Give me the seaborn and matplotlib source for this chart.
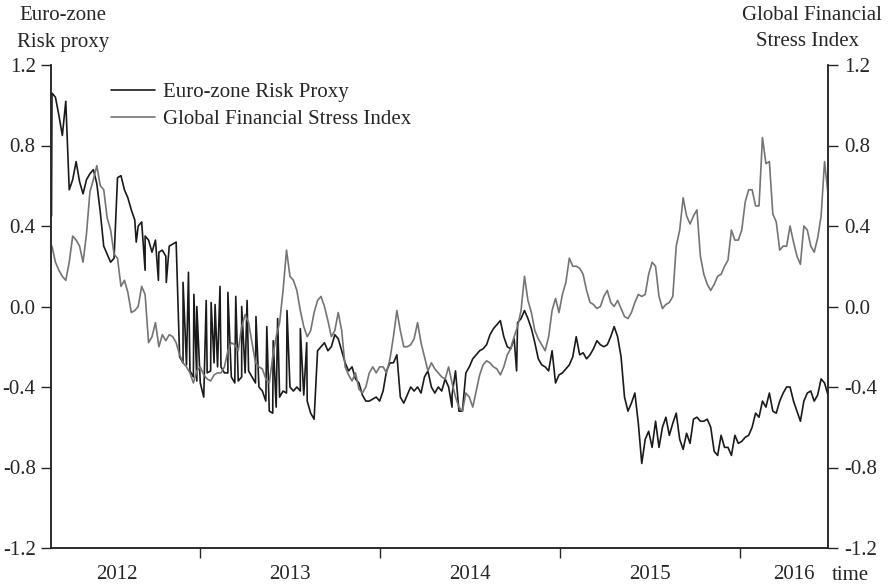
import matplotlib
matplotlib.use("Agg")
import matplotlib.pyplot as plt
import matplotlib.dates as mdates
import pandas as pd
import seaborn as sns


# weekly readings, first week starting 2012-03-06
START = "2012-03-06"

euro_weekly = [
    1.06, 1.04, 0.95, 0.85, 1.02, 0.58, 0.63, 0.72, 0.62, 0.56,
    0.63, 0.66, 0.68, 0.61, 0.47, 0.30, 0.26, 0.22, 0.24, 0.64,
    0.65, 0.58, 0.54, 0.48, 0.43, 0.40, 0.42, 0.35, 0.33, 0.27,
    0.33, 0.27, 0.28, 0.25, 0.30, 0.31, 0.32, -0.25, -0.28, -0.29,
    -0.32, -0.35, -0.37, -0.38, -0.45, -0.33, -0.32, -0.28, -0.30, -0.30,
    -0.33, -0.33, -0.35, -0.38, -0.37, -0.35, -0.33, -0.32, -0.35, -0.38,
    -0.40, -0.42, -0.47, -0.52, -0.53, -0.50, -0.45, -0.42, -0.43, -0.40,
    -0.42, -0.40, -0.42, -0.44, -0.47, -0.53, -0.56, -0.22, -0.20, -0.18,
    -0.22, -0.20, -0.14, -0.16, -0.22, -0.28, -0.32, -0.30, -0.36, -0.38,
    -0.44, -0.47, -0.47, -0.46, -0.45, -0.47, -0.42, -0.32, -0.28, -0.28,
    -0.24, -0.45, -0.48, -0.44, -0.40, -0.42, -0.40, -0.43, -0.35, -0.32,
    -0.40, -0.43, -0.40, -0.42, -0.36, -0.40, -0.44, -0.32, -0.52, -0.52,
    -0.33, -0.30, -0.26, -0.24, -0.22, -0.21, -0.19, -0.14, -0.11, -0.09,
    -0.07, -0.15, -0.20, -0.21, -0.16, -0.08, -0.06, -0.02, -0.06, -0.11,
    -0.18, -0.26, -0.29, -0.30, -0.32, -0.22, -0.38, -0.34, -0.33, -0.31,
    -0.29, -0.25, -0.15, -0.24, -0.23, -0.26, -0.24, -0.21, -0.17, -0.19,
    -0.20, -0.19, -0.15, -0.10, -0.15, -0.25, -0.45, -0.52, -0.48, -0.43,
    -0.58, -0.78, -0.66, -0.62, -0.70, -0.57, -0.70, -0.60, -0.55, -0.64,
    -0.58, -0.53, -0.66, -0.71, -0.63, -0.68, -0.56, -0.55, -0.57, -0.57,
    -0.56, -0.60, -0.72, -0.74, -0.64, -0.70, -0.70, -0.74, -0.64, -0.68,
    -0.67, -0.65, -0.64, -0.60, -0.53, -0.55, -0.47, -0.50, -0.43, -0.52,
    -0.53, -0.47, -0.43, -0.40, -0.40, -0.47, -0.52, -0.57, -0.47, -0.43,
    -0.42, -0.47, -0.44, -0.36, -0.38, -0.44,
]

# one-day jumps of the euro-zone proxy that fall between weekly readings
euro_spike_dates = [
    "2012-03-05", "2012-08-24", "2012-09-11", "2012-10-08", "2012-10-24",
    "2012-11-27", "2012-12-08", "2012-12-19", "2012-12-25", "2013-01-13",
    "2013-01-23", "2013-01-31", "2013-02-10", "2013-02-26", "2013-03-14",
    "2013-03-26", "2013-04-06", "2013-04-24", "2013-05-16", "2013-05-29",
    "2013-06-07", "2013-06-26", "2013-07-23", "2013-08-05", "2014-05-27",
    "2014-10-05",
]
euro_spike_values = [
    0.45, 0.32, 0.18, 0.13, 0.12,
    0.12, 0.17, 0.06, 0.00, 0.03,
    0.02, 0.01, 0.10, 0.07, 0.05,
    0.00, 0.03, -0.05, -0.10, -0.17,
    -0.06, -0.02, -0.11, -0.18, -0.50,
    -0.32,
]

gfsi_weekly = [
    0.30, 0.22, 0.18, 0.15, 0.13, 0.22, 0.35, 0.33, 0.30, 0.22,
    0.36, 0.57, 0.63, 0.70, 0.60, 0.58, 0.44, 0.38, 0.26, 0.24,
    0.10, 0.13, 0.07, -0.03, -0.02, 0.00, 0.10, 0.06, -0.18, -0.15,
    -0.08, -0.20, -0.14, -0.17, -0.14, -0.15, -0.18, -0.24, -0.28, -0.30,
    -0.33, -0.38, -0.32, -0.30, -0.34, -0.36, -0.37, -0.34, -0.33, -0.33,
    -0.30, -0.22, -0.18, -0.19, -0.22, -0.10, -0.04, -0.08, -0.18, -0.28,
    -0.30, -0.31, -0.36, -0.38, -0.25, -0.15, -0.08, 0.08, 0.28, 0.15,
    0.13, 0.08, -0.02, -0.10, -0.15, -0.12, -0.03, 0.03, 0.05, 0.00,
    -0.07, -0.15, -0.12, -0.03, -0.12, -0.30, -0.34, -0.37, -0.33, -0.41,
    -0.43, -0.40, -0.33, -0.30, -0.33, -0.30, -0.30, -0.33, -0.26, -0.15,
    -0.02, -0.12, -0.20, -0.20, -0.19, -0.16, -0.08, -0.18, -0.25, -0.32,
    -0.28, -0.31, -0.33, -0.35, -0.36, -0.30, -0.38, -0.45, -0.50, -0.52,
    -0.43, -0.45, -0.50, -0.42, -0.34, -0.29, -0.27, -0.28, -0.30, -0.31,
    -0.34, -0.30, -0.24, -0.21, -0.15, -0.10, -0.02, 0.15, 0.03, -0.03,
    -0.12, -0.16, -0.19, -0.22, -0.15, -0.02, 0.04, -0.03, 0.06, 0.12,
    0.24, 0.20, 0.20, 0.19, 0.16, 0.08, 0.02, 0.01, -0.01, 0.00,
    0.05, 0.08, 0.02, 0.00, 0.03, -0.01, -0.05, -0.06, -0.03, 0.02,
    0.06, 0.05, 0.06, 0.16, 0.22, 0.20, 0.05, -0.01, 0.01, 0.02,
    0.05, 0.30, 0.38, 0.54, 0.45, 0.41, 0.45, 0.48, 0.25, 0.16,
    0.11, 0.08, 0.11, 0.15, 0.16, 0.20, 0.23, 0.38, 0.33, 0.33,
    0.38, 0.52, 0.58, 0.58, 0.50, 0.50, 0.84, 0.71, 0.72, 0.46,
    0.42, 0.28, 0.30, 0.30, 0.40, 0.32, 0.25, 0.21, 0.40, 0.38,
    0.30, 0.27, 0.34, 0.45, 0.72, 0.56,
]

y_ticks = [-1.2, -0.8, -0.4, 0.0, 0.4, 0.8, 1.2]
year_starts = ["2013-01-01", "2014-01-01", "2015-01-01", "2016-01-01"]
year_labels = ["2012", "2013", "2014", "2015", "2016"]
year_label_dates = ["2012-07-15", "2013-07-02", "2014-07-03", "2015-07-02", "2016-04-20"]

weeks = pd.date_range(START, periods=len(euro_weekly), freq="7D")
euro = pd.DataFrame({
    "date": list(weeks) + list(pd.to_datetime(euro_spike_dates)),
    "value": euro_weekly + euro_spike_values,
}).sort_values("date")
gfsi = pd.DataFrame({"date": weeks, "value": gfsi_weekly})

sns.set_style("ticks")
plt.rcParams["font.family"] = ["Liberation Serif", "DejaVu Serif"]
FS = 15
INK = "#262626"

fig = plt.figure(figsize=(8.9, 5.88), dpi=100)
ax = fig.add_axes([51 / 890, 40 / 588, 777 / 890, 483 / 588])

sns.lineplot(data=euro, x="date", y="value", ax=ax, color="#1a1a1a",
             linewidth=1.2, estimator=None, legend=False)
ax2 = ax.twinx()
sns.lineplot(data=gfsi, x="date", y="value", ax=ax2, color="#747474",
             linewidth=1.2, estimator=None, legend=False)

ax.set_xlim(pd.Timestamp("2012-03-04"), pd.Timestamp("2016-06-28"))
for a in (ax, ax2):
    a.set_ylim(-1.2, 1.2)
    a.set_yticks(y_ticks, labels=[f"{v:.1f}" for v in y_ticks])
    a.set_ylabel("")
    a.set_xlabel("")
    a.spines["top"].set_visible(False)
    for s in a.spines.values():
        s.set_color(INK)
        s.set_linewidth(1.1)
    a.tick_params(axis="y", direction="out", length=7, width=1.0,
                  color=INK, labelsize=FS, labelcolor=INK, pad=4)

ax.set_xticks(mdates.date2num(pd.to_datetime(year_starts)), labels=[""] * len(year_starts))
ax.set_xticks(mdates.date2num(pd.to_datetime(year_label_dates)), labels=year_labels, minor=True)
ax.tick_params(axis="x", which="major", direction="out", length=7, width=1.0, color=INK)
ax.tick_params(axis="x", which="minor", length=0, labelsize=FS, labelcolor=INK, pad=12)
ax2.tick_params(axis="y", pad=5)

# legend without frame, upper left
handles = [ax.lines[0], ax2.lines[0]]
ax2.legend(handles, ["Euro-zone Risk Proxy", "Global Financial Stress Index"],
           loc="upper left", bbox_to_anchor=(0.077, 0.964), frameon=False,
           borderpad=0, borderaxespad=0, handlelength=2.1, handletextpad=0.4,
           labelspacing=0.38, fontsize=FS, labelcolor=INK)

fig.text(63 / 890, 1 - 15 / 588, "Euro-zone", ha="center", va="center", fontsize=FS, color=INK)
fig.text(63 / 890, 1 - 42 / 588, "Risk proxy", ha="center", va="center", fontsize=FS, color=INK)
fig.text(812 / 890, 1 - 15 / 588, "Global Financial", ha="center", va="center", fontsize=FS, color=INK)
fig.text(808 / 890, 1 - 42 / 588, "Stress Index", ha="center", va="center", fontsize=FS, color=INK)
fig.text(850 / 890, 1 - 575 / 588, "time", ha="center", va="center", fontsize=FS, color=INK)

fig.savefig("out.png", dpi=100)
